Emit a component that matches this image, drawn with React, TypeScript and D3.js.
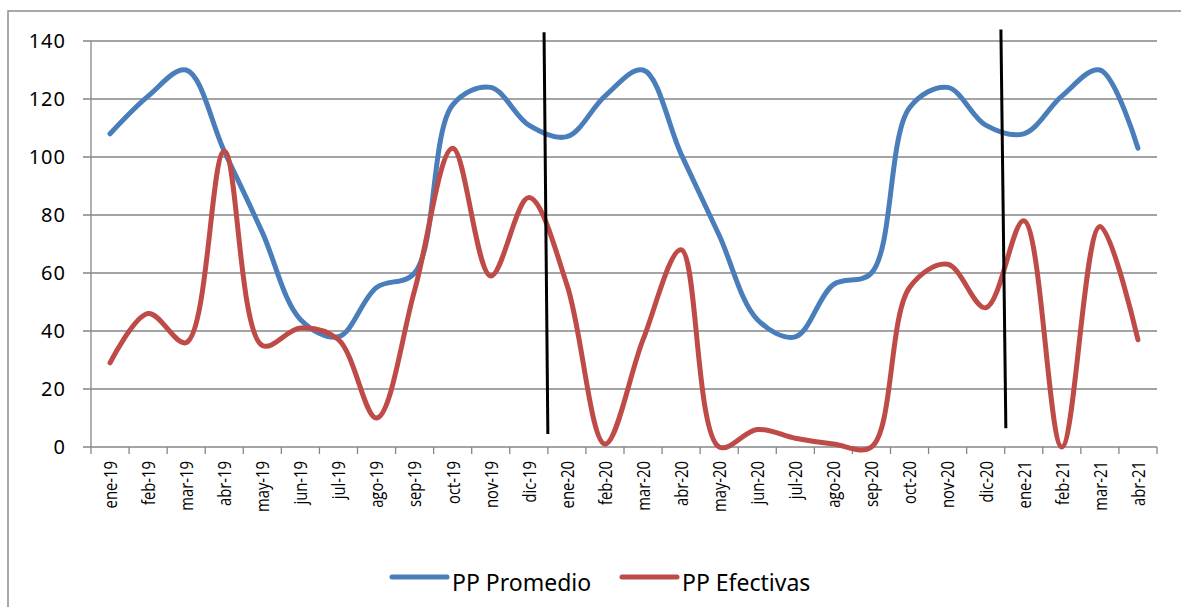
import React from 'react';
import * as d3 from 'd3';

const months = [
  'ene-19', 'feb-19', 'mar-19', 'abr-19', 'may-19', 'jun-19', 'jul-19', 'ago-19', 'sep-19', 'oct-19', 'nov-19', 'dic-19',
  'ene-20', 'feb-20', 'mar-20', 'abr-20', 'may-20', 'jun-20', 'jul-20', 'ago-20', 'sep-20', 'oct-20', 'nov-20', 'dic-20',
  'ene-21', 'feb-21', 'mar-21', 'abr-21'
];
const ppPromedio = [108, 121, 130, 102, 74, 44, 38, 55, 60, 118, 124, 111, 107, 121, 130, 101, 73, 44, 38, 56, 60, 117, 124, 111, 108, 121, 130, 103];
const ppEfectivas = [29, 46, 36, 102, 35, 41, 37, 10, 54, 103, 59, 86, 56, 1, 37, 68, 0, 6, 3, 1, 0, 55, 63, 48, 78, 0, 76, 37];
const yTicks = [0, 20, 40, 60, 80, 100, 120, 140];
// hand-drawn divider lines: [index position, value] at each end
const dividers = [
  [[11.9, 143], [12.0, 4.5]],
  [[23.9, 144], [24.03, 6.5]]
];
const series = [
  { name: 'PP Promedio', values: ppPromedio, color: '#4a7ebb' },
  { name: 'PP Efectivas', values: ppEfectivas, color: '#be4b48' }
];

export default function App() {
  const left = 91, right = 1157, top = 41, bottom = 447;
  const x = d3.scaleBand<string>().domain(months).range([left, right]);
  const xi = d3.scaleLinear().domain([0, months.length]).range([left, right]);
  const y = d3.scaleLinear().domain([0, 140]).range([bottom, top]);
  const cx = (m: string) => (x(m) as number) + x.bandwidth() / 2;

  const line = d3.line<number>()
    .x((_, i) => cx(months[i]))
    .y(d => y(d))
    .curve(d3.curveCatmullRom.alpha(0.5));

  const legendX = [392, 622];
  const labelTop = 461;

  return (
    <svg width={1181} height={607} style={{ position: 'absolute', left: 0, top: 0, background: '#fff' }}>
      <rect x={8} y={11} width={1185} height={620} fill="#fff" stroke="#8c8c8c" strokeWidth={1.5} />
      {/* gridlines + y labels */}
      {yTicks.map(t => (
        <g key={t}>
          <line x1={left - 8} x2={right} y1={y(t)} y2={y(t)} stroke="#868686" strokeWidth={1.3} />
          <text x={66} y={y(t)} dy="0.35em" textAnchor="end" fontFamily="Noto Sans" fontSize={20} letterSpacing={1} fill="#000">{t}</text>
        </g>
      ))}
      <line x1={left} x2={left} y1={top} y2={bottom} stroke="#868686" strokeWidth={1.3} />
      {/* x ticks */}
      {d3.range(months.length + 1).map(i => (
        <line key={i} x1={xi(i)} x2={xi(i)} y1={bottom} y2={bottom + 7} stroke="#868686" strokeWidth={1.3} />
      ))}
      {months.map(m => (
        <text key={m} x={0} y={0} dy="0.36em" textAnchor="end" fontFamily="Open Sans" fontSize={19}
          transform={`translate(${cx(m)}, ${labelTop}) rotate(-90) scale(0.78, 1)`} fill="#000">{m}</text>
      ))}
      {series.map(s => (
        <path key={s.name} d={line(s.values) || ''} fill="none" stroke={s.color} strokeWidth={5} strokeLinecap="round" strokeLinejoin="round" />
      ))}
      {dividers.map((d, i) => (
        <line key={i} x1={xi(d[0][0])} y1={y(d[0][1])} x2={xi(d[1][0])} y2={y(d[1][1])} stroke="#000" strokeWidth={3} />
      ))}
      {series.map((s, i) => (
        <g key={s.name}>
          <line x1={legendX[i]} x2={legendX[i] + 55} y1={577} y2={577} stroke={s.color} strokeWidth={5} strokeLinecap="round" />
          <text x={legendX[i] + 60} y={591} fontFamily="Noto Sans" fontSize={23} fill="#000">{s.name}</text>
        </g>
      ))}
    </svg>
  );
}
